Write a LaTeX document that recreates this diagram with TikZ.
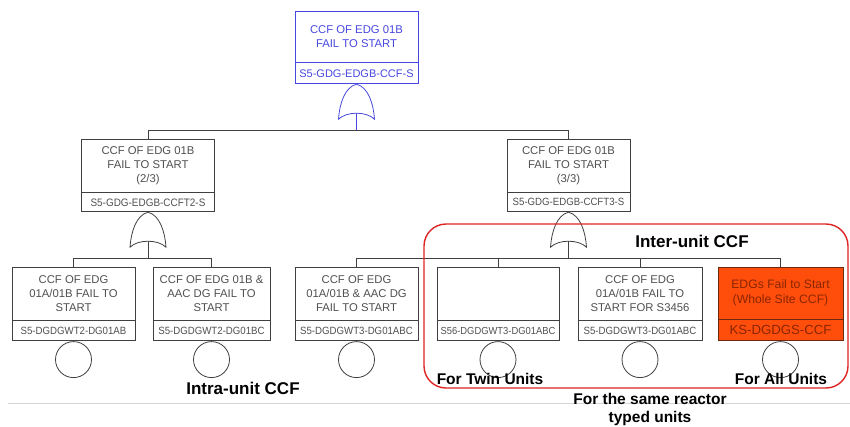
\documentclass[tikz,border=0pt]{standalone}
\usepackage{fontspec}
\setmainfont{Liberation Sans}
\newfontfamily\idfont[FakeStretch=0.92]{Liberation Sans}
\usetikzlibrary{calc}
\definecolor{boxc}{HTML}{404040}
\definecolor{txtc}{HTML}{505050}
\definecolor{bluec}{HTML}{4848E0}
\definecolor{orangef}{HTML}{FF4E0C}
\definecolor{orangetxt}{HTML}{8A2500}
\definecolor{orangeln}{HTML}{6B2A10}
\definecolor{redc}{HTML}{E02424}
\definecolor{lgray}{HTML}{D4D4D4}
\tikzset{
  evbox/.style={draw=boxc, line width=0.8pt, fill=white, text=txtc, align=center, inner sep=0pt,
    font=\fontsize{11.3}{14}\selectfont},
  idbox/.style={draw=boxc, line width=0.8pt, fill=white, text=txtc, align=center, inner sep=0pt, anchor=north},
  conn/.style={draw=boxc, line width=0.8pt},
  basicev/.style={draw=boxc, line width=0.8pt, circle, minimum size=36pt, inner sep=0pt, anchor=north},
  lbl/.style={font=\fontsize{17}{20}\selectfont\bfseries, text=black, inner sep=0pt},
  lbls/.style={font=\fontsize{15.5}{18}\selectfont\bfseries, text=black, inner sep=0pt},
  orgate/.pic={\draw (0,0) .. controls (12,3) and (17,20) .. (18,35) .. controls (10,27) and (-10,27) .. (-18,35) .. controls (-17,20) and (-12,3) .. (0,0) -- cycle;}
}
\begin{document}
\begin{tikzpicture}[x=1pt,y=-1pt]
\fill[white] (0,0) rectangle (850,426);
\useasboundingbox (0,0) rectangle (850,426);
% light gray rule
\draw[lgray, line width=0.8pt] (8,403) -- (850,403);
% bus coordinates
\coordinate (bus0) at (0,130);
\coordinate (bus1) at (0,258);
% top event
\node[evbox, draw=bluec, text=bluec, minimum width=123pt, minimum height=51pt] (t) at (356.5,36.5) {CCF OF EDG 01B\\FAIL TO START};
\node[idbox, draw=bluec, text=bluec, minimum width=123pt, minimum height=21pt, font=\fontsize{11}{13}\selectfont] (tid) at (t.south) {S5-GDG-EDGB-CCF-S};
\pic[draw=bluec, line width=0.8pt] at (tid.south) {orgate};
\coordinate (g0) at ($(tid.south)+(0,29)$);
% mid events
\node[evbox, minimum width=133pt, minimum height=53pt] (m1) at (148,165.5) {CCF OF EDG 01B\\FAIL TO START\\(2/3)};
\node[idbox, minimum width=133pt, minimum height=19pt, font=\idfont\fontsize{10.8}{12}\selectfont] (m1id) at (m1.south) {S5-GDG-EDGB-CCFT2-S};
\node[evbox, minimum width=123pt, minimum height=53pt] (m2) at (568.5,165.5) {CCF OF EDG 01B\\FAIL TO START\\(3/3)};
\node[idbox, minimum width=123pt, minimum height=19pt, font=\idfont\fontsize{10.5}{12}\selectfont] (m2id) at (m2.south) {S5-GDG-EDGB-CCFT3-S};
\pic[draw=boxc, line width=0.8pt] at (m1id.south) {orgate};
\pic[draw=boxc, line width=0.8pt] at (m2id.south) {orgate};
\coordinate (g1) at ($(m1id.south)+(0,29)$);
\coordinate (g2) at ($(m2id.south)+(0,29)$);
% bottom events
\node[evbox, minimum width=123pt, minimum height=53pt] (b1) at (73.5,293.5) {CCF OF EDG\\01A/01B FAIL TO\\START};
\node[idbox, minimum width=123pt, minimum height=20pt, font=\idfont\fontsize{10.5}{12}\selectfont] (b1id) at (b1.south) {S5-DGDGWT2-DG01AB};
\node[evbox, minimum width=117pt, minimum height=53pt] (b2) at (211.5,293.5) {CCF OF EDG 01B \&\\AAC DG FAIL TO\\START};
\node[idbox, minimum width=117pt, minimum height=20pt, font=\idfont\fontsize{10.5}{12}\selectfont] (b2id) at (b2.south) {S5-DGDGWT2-DG01BC};
\node[evbox, minimum width=123pt, minimum height=53pt] (b3) at (356.5,293.5) {CCF OF EDG\\01A/01B \& AAC DG\\FAIL TO START};
\node[idbox, minimum width=123pt, minimum height=20pt, font=\idfont\fontsize{10.5}{12}\selectfont] (b3id) at (b3.south) {S5-DGDGWT3-DG01ABC};
\node[evbox, minimum width=122pt, minimum height=53pt] (b4) at (498,293.5) {};
\node[idbox, minimum width=122pt, minimum height=20pt, font=\idfont\fontsize{10.2}{12}\selectfont] (b4id) at (b4.south) {S56-DGDGWT3-DG01ABC};
\node[evbox, minimum width=124pt, minimum height=53pt] (b5) at (640,293.5) {CCF OF EDG\\01A/01B FAIL TO\\START FOR S3456};
\node[idbox, minimum width=124pt, minimum height=20pt, font=\idfont\fontsize{10.5}{12}\selectfont] (b5id) at (b5.south) {S5-DGDGWT3-DG01ABC};
\node[evbox, draw=orangeln, fill=orangef, text=orangetxt, minimum width=125pt, minimum height=52pt, font=\fontsize{12.2}{15}\selectfont] (b6) at (780.5,293) {EDGs Fail to Start\\(Whole Site CCF)};
\node[idbox, draw=orangeln, fill=orangef, text=orangetxt, minimum width=125pt, minimum height=21pt, font=\fontsize{13.2}{15}\selectfont] (b6id) at (b6.south) {KS-DGDGS-CCF};
% basic event circles
\foreach \i in {1,...,6} {
  \node[basicev] (c\i) at (b\i id.south) {};
}
% connectors
\draw[bluec, line width=0.8pt] (g0) -- (g0 |- bus0);
\draw[conn] (g0 |- bus0) -| (m1.north);
\draw[conn] (g0 |- bus0) -| (m2.north);
\draw[conn] (g1) -- (g1 |- bus1) -| (b1.north);
\draw[conn] (g1 |- bus1) -| (b2.north);
\draw[conn] (g2) -- (g2 |- bus1) -| (b3.north);
\draw[conn] (g2 |- bus1) -| (b4.north);
\draw[conn] (g2 |- bus1) -| (b5.north);
\draw[conn] (g2 |- bus1) -| (b6.north);
% red frame
\draw[redc, line width=1.4pt, rounded corners=22pt] (424,224) rectangle (848,388);
% labels
\node[lbl] (inter) at (692,241) {Inter-unit CCF};
\node[lbl] (intra) at (243,388) {Intra-unit CCF};
\node[lbls] (twin) at (490,379) {For Twin Units};
\node[lbls] (all) at (781,379) {For All Units};
\node[lbls, align=center, font=\fontsize{15.5}{18}\selectfont\bfseries] (same) at (650,409) {For the same reactor\\typed units};
\end{tikzpicture}
\end{document}
